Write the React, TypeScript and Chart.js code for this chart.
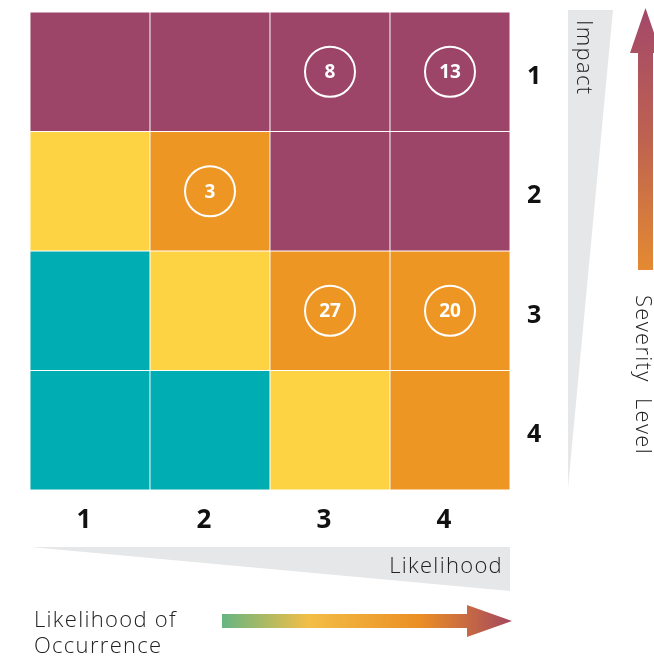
import React, { useEffect, useRef } from "react";
import { Chart, registerables } from "chart.js";

Chart.register(...registerables);

// Likelihood (columns) and Impact (rows, top to bottom)
const likelihoodLabels = ["1", "2", "3", "4"];
const impactLabels = ["1", "2", "3", "4"];

// Severity level of each cell, row by row (impact 1..4), column by column (likelihood 1..4)
const severityImpact1 = ["high", "high", "high", "high"];
const severityImpact2 = ["medium", "elevated", "high", "high"];
const severityImpact3 = ["low", "medium", "elevated", "elevated"];
const severityImpact4 = ["low", "low", "medium", "elevated"];
const severityRows = [severityImpact1, severityImpact2, severityImpact3, severityImpact4];

// Risk counts shown in circles (null = none)
const countsImpact1 = [null, null, 8, 13];
const countsImpact2 = [null, 3, null, null];
const countsImpact3 = [null, null, 27, 20];
const countsImpact4 = [null, null, null, null];
const countRows = [countsImpact1, countsImpact2, countsImpact3, countsImpact4];

const severityColors: Record<string, string> = {
  high: "#9C4569",
  elevated: "#EE9623",
  medium: "#FDD344",
  low: "#00ADB3",
};

const LIGHT_FONT = "'Open Sans', 'Noto Sans', sans-serif";
const BOLD_FONT = "'Open Sans', 'Noto Sans', sans-serif";

export default function App() {
  const ref = useRef<HTMLCanvasElement | null>(null);

  useEffect(() => {
    if (!ref.current) return;

    const barDatasets = severityRows.map((row, ri) => ({
      type: "bar" as const,
      label: "Impact " + impactLabels[ri],
      data: row.map(() => [ri, ri + 1]),
      backgroundColor: row.map((s) => severityColors[s]),
      borderColor: "rgba(255,255,255,0.75)",
      borderWidth: 0.8,
      borderSkipped: false,
      barPercentage: 1,
      categoryPercentage: 1,
      grouped: false,
      order: 2,
    }));

    const circlePoints: { x: string; y: number; v: number }[] = [];
    countRows.forEach((row, ri) =>
      row.forEach((v, ci) => {
        if (v !== null) circlePoints.push({ x: likelihoodLabels[ci], y: ri + 0.5, v: v as number });
      })
    );

    const circleDataset = {
      type: "line" as const,
      label: "Counts",
      data: circlePoints,
      showLine: false,
      pointRadius: 25,
      pointHoverRadius: 25,
      pointBorderWidth: 2,
      pointBorderColor: "#FFFFFF",
      pointBackgroundColor: "rgba(0,0,0,0)",
      order: 1,
    };

    const countLabels = {
      id: "countLabels",
      afterDatasetsDraw(chart: any) {
        const idx = chart.data.datasets.length - 1;
        const meta = chart.getDatasetMeta(idx);
        const ctx = chart.ctx;
        ctx.save();
        ctx.fillStyle = "#FFFFFF";
        ctx.font = `bold 19px ${BOLD_FONT}`;
        ctx.textAlign = "center";
        ctx.textBaseline = "middle";
        meta.data.forEach((el: any, i: number) => {
          const d = chart.data.datasets[idx].data[i];
          ctx.fillText(String(d.v), el.x, el.y + 1);
        });
        ctx.restore();
      },
    };

    const setLight = (ctx: any, size: number) => {
      ctx.font = `300 ${size}px ${LIGHT_FONT}`;
      try {
        ctx.letterSpacing = "1.3px";
      } catch (e) {}
    };

    const decorations = {
      id: "decorations",
      afterDraw(chart: any) {
        const ctx = chart.ctx;
        const { left, right, top, bottom } = chart.chartArea;
        ctx.save();

        // Impact wedge
        ctx.fillStyle = "#E6E7E8";
        ctx.beginPath();
        ctx.moveTo(right + 58, top - 2);
        ctx.lineTo(right + 103, top - 2);
        ctx.lineTo(right + 58, bottom - 2);
        ctx.closePath();
        ctx.fill();

        // Impact text
        ctx.save();
        ctx.translate(right + 73, top + 8);
        ctx.rotate(Math.PI / 2);
        ctx.fillStyle = "#222";
        setLight(ctx, 22);
        ctx.textAlign = "left";
        ctx.textBaseline = "middle";
        ctx.fillText("Impact", 0, 0);
        ctx.restore();

        // Severity arrow
        const ax = right + 135.5;
        const g1 = ctx.createLinearGradient(0, top - 4, 0, top + 258);
        g1.addColorStop(0, "#A2486A");
        g1.addColorStop(0.5, "#BE6250");
        g1.addColorStop(1, "#E48A32");
        ctx.fillStyle = g1;
        ctx.fillRect(ax - 7.5, top + 40, 15, 218);
        ctx.beginPath();
        ctx.moveTo(ax - 15.5, top + 41);
        ctx.lineTo(ax, top - 4);
        ctx.lineTo(ax + 15.5, top + 41);
        ctx.closePath();
        ctx.fill();

        // Severity Level text
        ctx.save();
        ctx.translate(right + 132, top + 283);
        ctx.rotate(Math.PI / 2);
        ctx.fillStyle = "#222";
        setLight(ctx, 22);
        ctx.textAlign = "left";
        ctx.textBaseline = "middle";
        ctx.fillText("Severity", 0, 0);
        ctx.fillText("Level", 103, 0);
        ctx.restore();

        // Likelihood wedge
        ctx.fillStyle = "#E6E7E8";
        ctx.beginPath();
        ctx.moveTo(left, bottom + 57);
        ctx.lineTo(right, bottom + 57);
        ctx.lineTo(right, bottom + 101);
        ctx.closePath();
        ctx.fill();

        ctx.fillStyle = "#222";
        setLight(ctx, 22);
        ctx.textAlign = "right";
        ctx.textBaseline = "alphabetic";
        ctx.fillText("Likelihood", right - 7, bottom + 83);

        // Likelihood of occurrence arrow
        const ay = bottom + 131;
        const x0 = left + 192;
        const x1 = right + 2;
        const g2 = ctx.createLinearGradient(x0, 0, x1, 0);
        g2.addColorStop(0, "#66B581");
        g2.addColorStop(0.3, "#F3BE46");
        g2.addColorStop(0.68, "#EB8F25");
        g2.addColorStop(1, "#A5475F");
        ctx.fillStyle = g2;
        ctx.fillRect(x0, ay - 7, x1 - 45 - x0, 14);
        ctx.beginPath();
        ctx.moveTo(x1 - 45, ay - 16);
        ctx.lineTo(x1, ay);
        ctx.lineTo(x1 - 45, ay + 16);
        ctx.closePath();
        ctx.fill();

        ctx.fillStyle = "#222";
        setLight(ctx, 22);
        ctx.textAlign = "left";
        ctx.textBaseline = "alphabetic";
        ctx.fillText("Likelihood of", left + 4, bottom + 137);
        ctx.fillText("Occurrence", left + 4, bottom + 163);

        ctx.restore();
      },
    };

    const chart = new Chart(ref.current, {
      type: "bar",
      data: {
        labels: likelihoodLabels,
        datasets: [...barDatasets, circleDataset] as any,
      },
      options: {
        animation: false,
        responsive: false,
        maintainAspectRatio: false,
        layout: { autoPadding: false, padding: { top: 12, left: 30, right: 0, bottom: 0 } },
        plugins: {
          legend: { display: false },
          tooltip: { enabled: false },
        },
        scales: {
          x: {
            type: "category",
            offset: true,
            grid: { display: false, drawTicks: false },
            border: { display: false },
            ticks: {
              color: "#111",
              font: { family: BOLD_FONT, size: 26, weight: "bold" },
              padding: 15,
              labelOffset: -6,
            },
            afterFit(scale: any) {
              scale.height = 168;
              scale.paddingLeft = 0;
              scale.paddingRight = 0;
            },
          },
          y: {
            type: "linear",
            position: "right",
            reverse: true,
            min: 0,
            max: 4,
            grid: { display: false, drawTicks: false },
            border: { display: false },
            afterBuildTicks(scale: any) {
              scale.ticks = impactLabels.map((_, i) => ({ value: i + 0.5 }));
            },
            ticks: {
              color: "#111",
              font: { family: BOLD_FONT, size: 25, weight: "bold" },
              padding: 17,
              labelOffset: 5,
              callback: (v: any) => impactLabels[Math.floor(Number(v))],
            },
            afterFit(scale: any) {
              scale.width = 144;
              scale.paddingTop = 0;
              scale.paddingBottom = 0;
            },
          },
        },
      },
      plugins: [countLabels, decorations],
    });

    return () => chart.destroy();
  }, []);

  return (
    <div style={{ position: "fixed", left: 0, top: 0, width: 654, height: 658, background: "#fff" }}>
      <canvas ref={ref} width={654} height={658} style={{ width: 654, height: 658 }} />
    </div>
  );
}
